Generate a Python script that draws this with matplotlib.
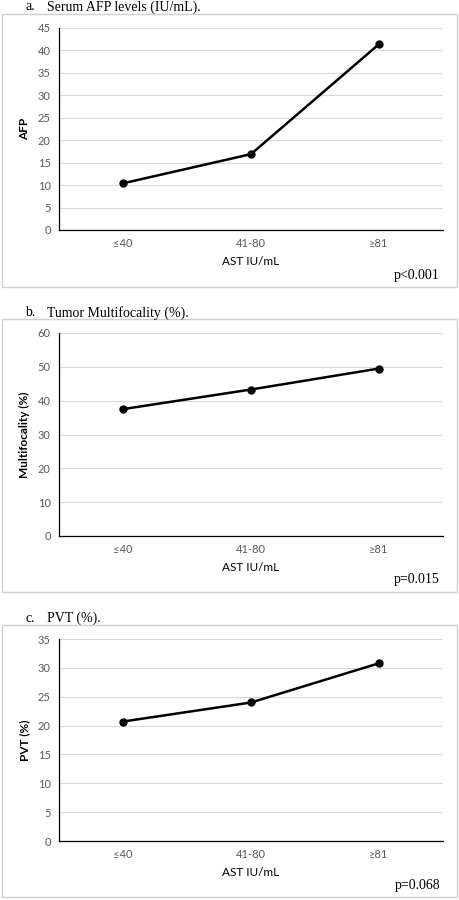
import matplotlib.pyplot as plt
from matplotlib.patches import Rectangle

categories = ["≤40", "41-80", "≥81"]

afp = [10.4, 16.9, 41.4]
multifocality = [37.5, 43.3, 49.5]
pvt = [20.7, 24.0, 30.8]

titles = ["Serum AFP levels (IU/mL).", "Tumor Multifocality (%).", "PVT (%)."]
letters = ["a.", "b.", "c."]
ylabels = ["AFP", "Multifocality (%)", "PVT (%)"]
pvalues = ["p<0.001", "p=0.015", "p=0.068"]
ymaxes = [45, 60, 35]
ysteps = [5, 10, 5]

W, H = 459, 900
fig = plt.figure(figsize=(W / 100, H / 100), dpi=100)

# pixel layout of each panel: box top, box bottom, axes top, axes bottom, title y
panels = [
    (14, 287, 28, 230, 7),
    (319, 592, 333, 536, 313),
    (625, 897, 639, 841, 618),
]
ax_left, ax_right = 59, 443
sans = ["Lato", "DejaVu Sans"]
serif = "Liberation Serif"

for i, series in enumerate([afp, multifocality, pvt]):
    box_top, box_bot, a_top, a_bot, t_y = panels[i]
    fig.patches.append(Rectangle((2 / W, 1 - box_bot / H), 455 / W, (box_bot - box_top) / H,
                                 transform=fig.transFigure, fill=False,
                                 edgecolor="#d0d0d0", linewidth=1))
    fig.text(25 / W, 1 - t_y / H, letters[i], family=serif, fontsize=10, va="center")
    fig.text(47 / W, 1 - t_y / H, titles[i], family=serif, fontsize=10, va="center")

    ax = fig.add_axes([ax_left / W, 1 - a_bot / H, (ax_right - ax_left) / W, (a_bot - a_top) / H])
    x = range(len(categories))
    ax.plot(x, series, color="black", linewidth=1.8, marker="o", markersize=5)
    ax.set_xlim(-0.5, 2.5)
    ax.set_ylim(0, ymaxes[i])
    ax.set_yticks(range(0, ymaxes[i] + 1, ysteps[i]))
    ax.set_xticks(list(x))
    ax.set_xticklabels(categories)
    ax.grid(axis="y", color="#d9d9d9", linewidth=0.8)
    ax.set_axisbelow(True)
    for s in ["top", "right"]:
        ax.spines[s].set_visible(False)
    ax.spines["left"].set_linewidth(0.9)
    ax.spines["bottom"].set_linewidth(0.9)
    ax.tick_params(length=0, labelsize=8, labelcolor="#595959", pad=6)
    for lab in ax.get_xticklabels() + ax.get_yticklabels():
        lab.set_family(sans)
    ax.set_xlabel("AST IU/mL", family=sans, fontsize=8.5, labelpad=5)
    ax.set_ylabel(ylabels[i], family=sans, fontsize=8.5, fontweight="bold", labelpad=3)
    ax.yaxis.set_label_coords(-29 / (ax_right - ax_left), 0.5)
    fig.text(440 / W, 1 - (box_bot - 12) / H, pvalues[i], family=serif, fontsize=10,
             ha="right", va="center")

fig.savefig("out.png", dpi=100)
